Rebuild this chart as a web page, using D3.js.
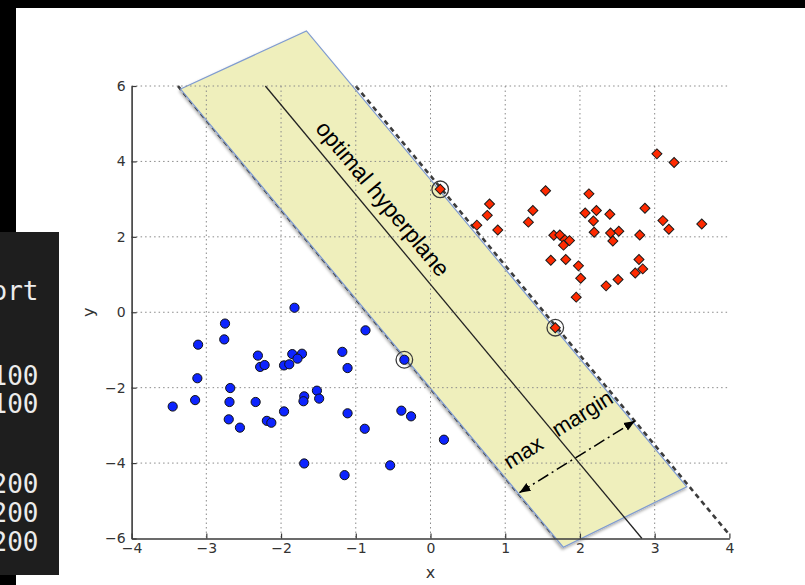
<!DOCTYPE html>
<html>
<head>
<meta charset="utf-8">
<script src="https://cdn.jsdelivr.net/npm/d3@7"></script>
<style>
  html, body { margin: 0; padding: 0; background: #000; }
  svg { display: block; }
</style>
</head>
<body>
<div id="chart"></div>
<script>
// class -1 (blue circles)
var blueClass = [
    [-1.82, 0.12], [-2.75, -0.30], [-2.76, -0.72], [-3.11, -0.86], [-2.31, -1.15],
    [-2.28, -1.45], [-2.22, -1.40], [-1.85, -1.11], [-1.72, -1.10], [-1.78, -1.23],
    [-1.96, -1.41], [-1.89, -1.38], [-3.12, -1.75], [-2.68, -2.01], [-3.15, -2.33],
    [-3.45, -2.50], [-2.69, -2.38], [-2.34, -2.38], [-1.69, -2.23], [-1.70, -2.36],
    [-2.70, -2.84], [-2.55, -3.06], [-2.19, -2.88], [-2.13, -2.93], [-1.96, -2.63],
    [-1.69, -4.01], [-0.87, -0.48], [-1.18, -1.05], [-1.11, -1.48], [-0.35, -1.26],
    [-1.52, -2.08], [-1.49, -2.29], [-1.11, -2.68], [-0.39, -2.61], [-0.26, -2.76],
    [-0.88, -3.09], [0.18, -3.38], [-0.54, -4.06], [-1.15, -4.32]
];

// class +1 (red diamonds)
var redClass = [
    [0.13, 3.26], [1.54, 3.22], [2.12, 3.14], [0.79, 2.87], [1.37, 2.70],
    [0.76, 2.57], [1.31, 2.39], [2.07, 2.63], [2.22, 2.70], [2.18, 2.42],
    [0.62, 2.31], [0.90, 2.18], [2.19, 2.12], [1.65, 2.04], [1.73, 2.05],
    [1.80, 1.92], [1.86, 1.90], [1.78, 1.78], [1.61, 1.38], [1.81, 1.40],
    [1.98, 1.23], [2.01, 0.90], [1.95, 0.40], [1.67, -0.41], [3.03, 4.20],
    [3.26, 3.97], [2.40, 2.60], [2.87, 2.76], [3.11, 2.43], [3.19, 2.20],
    [3.63, 2.34], [2.41, 2.10], [2.52, 2.15], [2.44, 1.89], [2.80, 2.05],
    [2.79, 1.40], [2.84, 1.15], [2.74, 1.04], [2.51, 0.87], [2.35, 0.70]
];

var supportVectors = [[0.13, 3.26], [1.67, -0.41], [-0.35, -1.26]];

var hyperplane = [[-2.21, 6], [2.83, -6]];
var marginLow = [[-3.38, 6], [1.68, -6]];
var marginHigh = [[-1.00, 6], [4.0, -5.90]];
var band = [[-3.345, 5.92], [-1.66, 7.46], [3.43, -4.63], [1.777, -6.23]];
var arrowEnds = [[1.19, -4.785], [2.736, -2.883]];

var xTicks = [-4, -3, -2, -1, 0, 1, 2, 3, 4];
var yTicks = [-6, -4, -2, 0, 2, 4, 6];

var codeLines = ["import", "100", "100", "200", "200", "200"];

var margin = { top: 86, right: 75.6, bottom: 46.5, left: 131.6 },
    width = 805 - margin.left - margin.right,
    height = 585 - margin.top - margin.bottom;

var root = d3.select("#chart")
    .append("svg")
    .attr("width", 805)
    .attr("height", 585);

var defs = root.append("defs");

var shadow = defs.append("filter")
    .attr("id", "shadow")
    .attr("x", "-10%").attr("y", "-10%")
    .attr("width", "120%").attr("height", "120%");
shadow.append("feDropShadow")
    .attr("dx", -1).attr("dy", 2)
    .attr("stdDeviation", 1.6)
    .attr("flood-color", "#000")
    .attr("flood-opacity", 0.35);

defs.append("marker")
    .attr("id", "head")
    .attr("viewBox", "0 -5 11 10")
    .attr("refX", 11).attr("refY", 0)
    .attr("markerUnits", "userSpaceOnUse")
    .attr("markerWidth", 11).attr("markerHeight", 10)
    .attr("orient", "auto-start-reverse")
    .append("path")
    .attr("d", "M0,-4.5L11,0L0,4.5Z")
    .attr("fill", "#000");

// screenshot background: black frame, white page, code panel on the left
root.append("rect").attr("width", 805).attr("height", 585).attr("fill", "#000");
root.append("rect").attr("x", 16).attr("y", 8).attr("width", 789).attr("height", 577).attr("fill", "#fff");
root.append("rect").attr("x", 0).attr("y", 232).attr("width", 59).attr("height", 343).attr("fill", "#1e1e1e");

var codeBaselines = [300, 385, 413, 493, 522, 551];
root.append("g")
    .selectAll("text")
    .data(codeLines)
    .enter().append("text")
    .attr("x", 38.5)
    .attr("y", function (d, i) { return codeBaselines[i]; })
    .attr("text-anchor", "end")
    .style("font-family", "DejaVu Sans Mono, monospace")
    .style("font-size", "26px")
    .attr("fill", "#ececec")
    .text(function (d) { return d; });

var svg = root.append("g")
    .attr("transform", "translate(" + margin.left + "," + margin.top + ")");

var x = d3.scaleLinear().domain([-4, 4]).range([0, width]);
var y = d3.scaleLinear().domain([-6, 6]).range([height, 0]);

var line = d3.line().x(function (d) { return x(d[0]); }).y(function (d) { return y(d[1]); });

// margin lines (dashed), partly under the band
svg.append("g")
    .selectAll("path")
    .data([marginLow, marginHigh])
    .enter().append("path")
    .attr("d", line)
    .attr("fill", "none")
    .attr("stroke", "#3c3c3c")
    .attr("stroke-width", 2.6)
    .attr("stroke-dasharray", "5,4");

// the yellow margin band
svg.append("path")
    .attr("d", line(band) + "Z")
    .attr("fill", "#efefbc")
    .attr("stroke", "#7f9bd0")
    .attr("stroke-width", 1.2)
    .attr("filter", "url(#shadow)");

// grid
svg.append("g")
    .selectAll("line")
    .data(xTicks.filter(function (d) { return d > -4 && d < 4; }))
    .enter().append("line")
    .attr("x1", function (d) { return x(d); })
    .attr("x2", function (d) { return x(d); })
    .attr("y1", 0).attr("y2", height)
    .attr("stroke", "#8a8a8a")
    .attr("stroke-width", 1)
    .attr("stroke-dasharray", "1.5,3");

svg.append("g")
    .selectAll("line")
    .data(yTicks.filter(function (d) { return d > -6; }))
    .enter().append("line")
    .attr("y1", function (d) { return y(d); })
    .attr("y2", function (d) { return y(d); })
    .attr("x1", 0).attr("x2", width)
    .attr("stroke", "#8a8a8a")
    .attr("stroke-width", 1)
    .attr("stroke-dasharray", "1.5,3");

// optimal hyperplane
svg.append("path")
    .attr("d", line(hyperplane))
    .attr("fill", "none")
    .attr("stroke", "#222")
    .attr("stroke-width", 1.3);

// axes (only left and bottom spines)
var xAxis = svg.append("g")
    .attr("transform", "translate(0," + height + ")")
    .call(d3.axisBottom(x).tickValues(xTicks).tickSizeInner(-5).tickSizeOuter(0).tickPadding(5));

var yAxis = svg.append("g")
    .call(d3.axisLeft(y).tickValues(yTicks).tickSizeInner(-5).tickSizeOuter(0).tickPadding(6));

[xAxis, yAxis].forEach(function (a) {
    a.select(".domain").attr("stroke", "#3a3a3a").attr("stroke-width", 1.6);
    a.selectAll(".tick line").attr("stroke", "#3a3a3a").attr("stroke-width", 1.2);
    a.selectAll(".tick text")
        .attr("fill", "#333")
        .style("font-family", "DejaVu Sans, sans-serif")
        .style("font-size", "14px");
});

svg.append("text")
    .attr("x", x(0))
    .attr("y", height + 39)
    .attr("text-anchor", "middle")
    .style("font-family", "DejaVu Sans, sans-serif")
    .style("font-size", "16px")
    .attr("fill", "#333")
    .text("x");

svg.append("text")
    .attr("transform", "translate(-37.6," + y(0) + ") rotate(-90)")
    .attr("text-anchor", "middle")
    .style("font-family", "DejaVu Sans, sans-serif")
    .style("font-size", "16px")
    .attr("fill", "#333")
    .text("y");

// data points
svg.append("g")
    .selectAll("circle")
    .data(blueClass)
    .enter().append("circle")
    .attr("cx", function (d) { return x(d[0]); })
    .attr("cy", function (d) { return y(d[1]); })
    .attr("r", 4.6)
    .attr("fill", "#0d24ff")
    .attr("stroke", "#111")
    .attr("stroke-width", 1);

var diamond = d3.symbol().type(d3.symbolSquare).size(50);
svg.append("g")
    .selectAll("path")
    .data(redClass)
    .enter().append("path")
    .attr("d", diamond)
    .attr("transform", function (d) { return "translate(" + x(d[0]) + "," + y(d[1]) + ") rotate(45)"; })
    .attr("fill", "#ff2a00")
    .attr("stroke", "#1a1a1a")
    .attr("stroke-width", 1);

// support vectors
svg.append("g")
    .selectAll("circle")
    .data(supportVectors)
    .enter().append("circle")
    .attr("cx", function (d) { return x(d[0]); })
    .attr("cy", function (d) { return y(d[1]); })
    .attr("r", 8.3)
    .attr("fill", "none")
    .attr("stroke", "#3a3a3a")
    .attr("stroke-width", 1.3);

// max margin arrow
svg.append("path")
    .attr("d", line(arrowEnds))
    .attr("fill", "none")
    .attr("stroke", "#000")
    .attr("stroke-width", 1.5)
    .attr("stroke-dasharray", "12,4,2,4")
    .attr("marker-start", "url(#head)")
    .attr("marker-end", "url(#head)");

// annotations
var notes = [
    { text: "optimal hyperplane", at: [-0.72, 2.88], angle: 50.2 },
    { text: "max", at: [1.294, -3.886], angle: -32 },
    { text: "margin", at: [2.084, -2.852], angle: -32 }
];

svg.append("g")
    .selectAll("text")
    .data(notes)
    .enter().append("text")
    .attr("transform", function (d) {
        return "translate(" + x(d.at[0]) + "," + y(d.at[1]) + ") rotate(" + d.angle + ")";
    })
    .attr("text-anchor", "middle")
    .style("font-family", "Liberation Sans, Arial, sans-serif")
    .style("font-size", function (d, i) { return i === 0 ? "23px" : "22px"; })
    .attr("fill", "#000")
    .text(function (d) { return d.text; });
</script>
</body>
</html>
